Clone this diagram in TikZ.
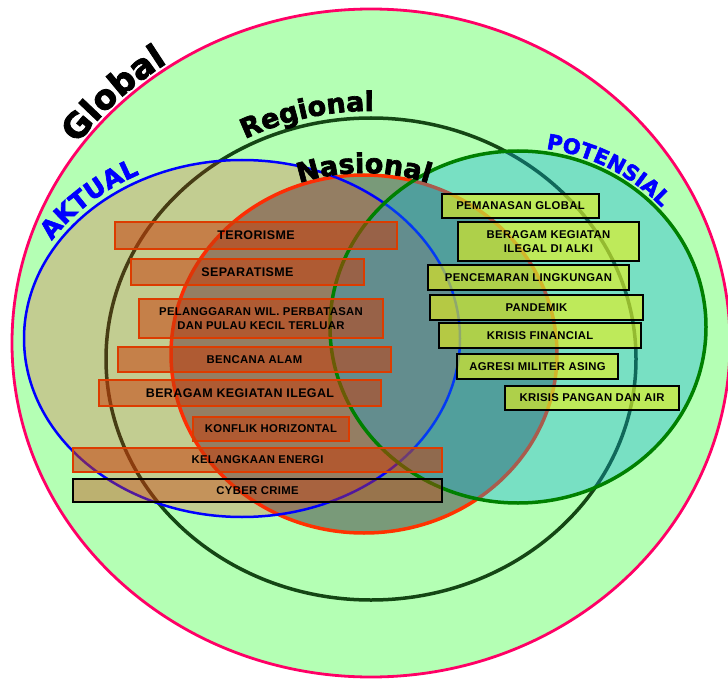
\documentclass[tikz,border=0pt]{standalone}
\usepackage{fontspec}
\setmainfont{Liberation Sans}
\newfontfamily\boxfont[LetterSpace=3]{Liberation Sans}
\newfontfamily\lblfont[BoldFeatures={FakeBold=2.5}]{DejaVu Sans}
\usetikzlibrary{decorations.text}
\definecolor{gfill}{RGB}{180,255,180}
\definecolor{gline}{RGB}{255,0,102}
\definecolor{rline}{RGB}{20,70,20}
\definecolor{nfill}{RGB}{51,33,51}
\definecolor{nline}{RGB}{255,51,0}
\definecolor{afill}{RGB}{248,28,21}
\definecolor{aline}{RGB}{0,0,255}
\definecolor{pfill}{RGB}{9,169,223}
\definecolor{pline}{RGB}{0,128,0}
\definecolor{ofill}{RGB}{200,60,10}
\definecolor{oline}{RGB}{220,60,0}
\definecolor{yfill}{RGB}{237,242,20}
\tikzset{
  lbox/.style={draw=oline, line width=1.1pt, fill=ofill, fill opacity=0.53, text opacity=1,
    font=\boxfont\bfseries\fontsize{11.3}{14.5}\selectfont, align=center, inner sep=0pt},
  lboxbig/.style={lbox, font=\boxfont\bfseries\fontsize{12.5}{14.5}\selectfont},
  cbox/.style={lbox, draw=black, fill opacity=0.4},
  rbox/.style={draw=black, line width=1.1pt, fill=yfill, fill opacity=0.6, text opacity=1,
    font=\boxfont\bfseries\fontsize{11.3}{13.3}\selectfont, align=center, inner sep=0pt},
  curvelbl/.style={decorate, decoration={text along path, text align=center, #1}}
}
\begin{document}
\begin{tikzpicture}[x=1pt,y=-1pt]
\useasboundingbox (0,0) rectangle (728,679);
% Global
\path[fill=gfill] (371,343) ellipse [x radius=359, y radius=334];
% Nasional fill
\path[fill=nfill, fill opacity=0.45] (364,354) ellipse [x radius=193, y radius=179];
% Regional outline
\draw[rline, line width=3.5pt] (371,359) ellipse [x radius=265, y radius=241];
% Nasional outline
\draw[nline, line width=3.5pt] (364,354) ellipse [x radius=193, y radius=179];
% Aktual
\path[fill=afill, fill opacity=0.22] (242,338.5) ellipse [x radius=218, y radius=178.5];
\draw[aline, line width=2.5pt] (242,338.5) ellipse [x radius=218, y radius=178.5];
% Potensial
\path[fill=pfill, fill opacity=0.35] (518,327) ellipse [x radius=188, y radius=176];
\draw[pline, line width=3.5pt] (518,327) ellipse [x radius=188, y radius=176];
% Global outline
\draw[gline, line width=2.8pt] (371,343) ellipse [x radius=359, y radius=334];

% Aktual boxes
\node[lboxbig, minimum width=282pt, minimum height=27pt] (terorisme) at (256,235.5) {TERORISME};
\node[lboxbig, minimum width=233pt, minimum height=26pt] (separatisme) at (247.5,272) {SEPARATISME};
\node[lbox, minimum width=244pt, minimum height=39pt] (pelanggaran) at (261,318.5) {PELANGGARAN WIL. PERBATASAN\\DAN PULAU KECIL TERLUAR};
\node[lbox, minimum width=273pt, minimum height=25pt] (bencana) at (254.5,359.5) {BENCANA ALAM};
\node[lboxbig, minimum width=282pt, minimum height=26pt] (ilegal) at (240,393) {BERAGAM KEGIATAN ILEGAL};
\node[lbox, minimum width=156pt, minimum height=24pt] (konflik) at (271,429) {KONFLIK HORIZONTAL};
\node[lbox, minimum width=369pt, minimum height=24pt] (energi) at (257.5,460) {KELANGKAAN ENERGI};
\node[cbox, minimum width=369pt, minimum height=23pt] (cyber) at (257.5,490.5) {CYBER CRIME};

% Potensial boxes
\node[rbox, minimum width=157pt, minimum height=24pt] (pemanasan) at (520.5,206) {PEMANASAN GLOBAL};
\node[rbox, minimum width=181pt, minimum height=39pt] (alki) at (548.5,241.5) {BERAGAM KEGIATAN\\ILEGAL DI ALKI};
\node[rbox, minimum width=201pt, minimum height=25pt] (pencemaran) at (528.5,277.5) {PENCEMARAN LINGKUNGAN};
\node[rbox, minimum width=213pt, minimum height=25pt] (pandemik) at (536.5,307.5) {PANDEMIK};
\node[rbox, minimum width=202pt, minimum height=25pt] (financial) at (540,335.5) {KRISIS FINANCIAL};
\node[rbox, minimum width=161pt, minimum height=25pt] (agresi) at (537.5,366.5) {AGRESI MILITER ASING};
\node[rbox, minimum width=174pt, minimum height=24pt] (pangan) at (592,398) {KRISIS PANGAN DAN AIR};

% Curved labels
\path[curvelbl={text={|\lblfont\bfseries\fontsize{34}{34}\selectfont|Global}}]
  (371,343) ++(180:363 and 338) arc[start angle=180, end angle=270, x radius=363, y radius=338];
\path[curvelbl={text={|\lblfont\bfseries\fontsize{27}{27}\selectfont|Regional}}]
  (371,359) ++(211:272 and 248) arc[start angle=211, end angle=301, x radius=272, y radius=248];
\path[curvelbl={text={|\lblfont\bfseries\fontsize{27}{27}\selectfont|Nasional}}]
  (364,354) ++(225:195 and 181) arc[start angle=225, end angle=315, x radius=195, y radius=181];
\path[curvelbl={text={|\color{aline}\lblfont\bfseries\fontsize{25}{25}\selectfont|AKTUAL}}]
  (242,338.5) ++(180:224 and 184.5) arc[start angle=180, end angle=270, x radius=224, y radius=184.5];
\path[curvelbl={text={|\color{aline}\lblfont\bfseries\fontsize{21}{21}\selectfont|POTENSIAL}}]
  (518,327) ++(254:192 and 180) arc[start angle=254, end angle=344, x radius=192, y radius=180];
\end{tikzpicture}
\end{document}
